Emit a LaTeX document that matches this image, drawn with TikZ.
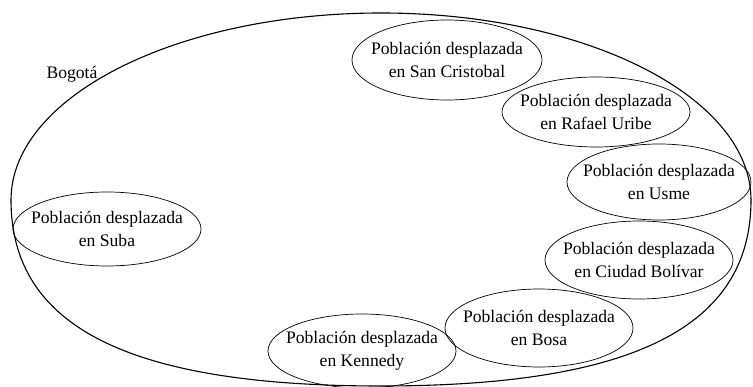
\documentclass[tikz,border=0pt]{standalone}
\usepackage{fontspec}
\setmainfont{Liberation Serif}

\begin{document}
\begin{tikzpicture}[x=1pt,y=-1pt,semithick]
  \tikzstyle{zona}=[align=center,inner sep=0pt,font=\fontsize{17.6}{22.5}\selectfont]

  \useasboundingbox (0,0) rectangle (753,387);

  % contorno de Bogota
  \coordinate (O) at (11,200);
  \draw[line width=1.1pt] (O) arc[start angle=180,end angle=0,x radius=370pt,y radius=187pt]
    .. controls (751,327) and (633,386) .. (381,386)
    .. controls (129,386) and (11,327) .. (O) -- cycle;
  \node[zona] (L) at (72,74) {Bogotá};

  \node[zona] (SC) at (447,60) {Población desplazada\\en San Cristobal};
  \node[zona] (RU) at (596,112) {Población desplazada\\en Rafael Uribe};
  \node[zona] (US) at (659,182) {Población desplazada\\en Usme};
  \node[zona] (CB) at (639,260) {Población desplazada\\en Ciudad Bolívar};
  \node[zona] (BO) at (539,328) {Población desplazada\\en Bosa};
  \node[zona] (KE) at (362,351) {Población desplazada\\en Kennedy};
  \node[zona] (SU) at (107,229) {Población desplazada\\en Suba};

  \foreach \n/\rx/\ry in {SC/95/40,RU/94/35,US/92/38,CB/94/39,BO/94/39,KE/94/37,SU/94/37}
    \draw[line width=0.7pt] (\n.center) ellipse (\rx pt and \ry pt);

\end{tikzpicture}
\end{document}
